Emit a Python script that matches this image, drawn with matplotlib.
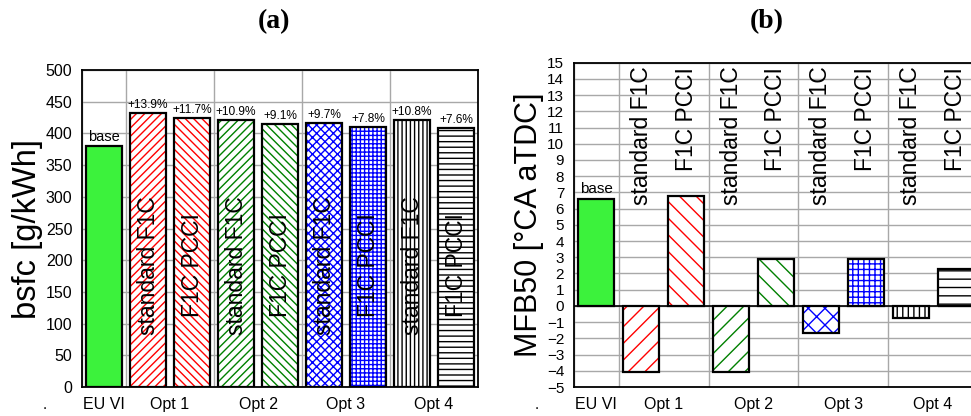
import matplotlib
matplotlib.use("Agg")
import matplotlib.pyplot as plt
import numpy as np

plt.rcParams['font.family'] = ['Liberation Sans', 'DejaVu Sans']
plt.rcParams['hatch.linewidth'] = 1.0

groups = ["EU VI", "Opt 1", "Opt 2", "Opt 3", "Opt 4"]
group_pos = [0, 1.5, 3.5, 5.5, 7.5]
variants = ["base", "standard F1C", "F1C PCCI", "standard F1C", "F1C PCCI",
            "standard F1C", "F1C PCCI", "standard F1C", "F1C PCCI"]

# bsfc: baseline value and relative increase of each option (%)
bsfc_base = 380.0
bsfc_increase = [13.9, 11.7, 10.9, 9.1, 9.7, 7.8, 10.8, 7.6]

# MFB50 in deg CA aTDC
mfb50 = [6.6, -4.1, 6.8, -4.1, 2.9, -1.65, 2.9, -0.75, 2.3]

face_colors = ['#3cf23c'] + ['white'] * 8
hatch_colors = ['black', 'red', 'red', 'green', 'green', 'blue', 'blue', 'black', 'black']
hatches_a = [None, '////', '\\\\\\\\', '////', '\\\\\\\\', 'xxxx', '++++', '||||', '---']
hatches_b = [None, '//', '\\\\', '//', '\\\\', 'xx', '+++', '|||', '--']


def draw_bars(ax, values, hatches):
    x = np.arange(len(values))
    for i, v in enumerate(values):
        ax.bar(x[i], v, width=0.8, color=face_colors[i], hatch=hatches[i],
               edgecolor=hatch_colors[i], linewidth=0, zorder=3)
        ax.bar(x[i], v, width=0.8, color='none', edgecolor='black',
               linewidth=1.6, zorder=4)
    return x


def style_axes(ax, ymin, ymax, ystep):
    ax.set_xlim(-0.5, 8.5)
    ax.set_ylim(ymin, ymax)
    ax.set_yticks(np.arange(ymin, ymax + ystep / 2, ystep))
    ax.set_xticks(group_pos)
    ax.set_xticklabels(groups)
    ax.set_xticks(np.arange(-0.5, 9.0, 1.0), minor=True)
    ax.tick_params(axis='both', which='both', length=0, labelsize=11.5, pad=7)
    ax.grid(axis='y', which='major', color='#a8a8a8', linewidth=1.0, zorder=0)
    ax.grid(axis='x', which='minor', color='#a8a8a8', linewidth=1.0, zorder=0)
    for s in ax.spines.values():
        s.set_color('black')
        s.set_linewidth(1.3)


fig = plt.figure(figsize=(9.71, 4.16), dpi=100)

# (a) bsfc
ax1 = fig.add_axes([0.0845, 0.0697, 0.4078, 0.762])
bsfc = [bsfc_base] + [bsfc_base * (1 + p / 100.0) for p in bsfc_increase]
x1 = draw_bars(ax1, bsfc, hatches_a)
style_axes(ax1, 0, 500, 50)
ax1.set_ylabel("bsfc [g/kWh]", fontsize=23.5, labelpad=2)
ax1.text(x1[0], bsfc[0] + 4, "base", ha='center', va='bottom', fontsize=10.5)
for i, p in enumerate(bsfc_increase):
    ax1.text(x1[i + 1], bsfc[i + 1] + 3, f"+{p}%", ha='center', va='bottom', fontsize=8.6)
for i in range(1, 9):
    ax1.text(x1[i], 192, variants[i], rotation=90, ha='center', va='center',
             fontsize=16.5, zorder=5)

# (b) MFB50
ax2 = fig.add_axes([0.5911, 0.0697, 0.416, 0.7796])
x2 = draw_bars(ax2, mfb50, hatches_b)
style_axes(ax2, -5, 15, 1)
ax2.tick_params(axis='y', labelsize=11)
ax2.axhline(0, color='black', linewidth=1.2, zorder=4)
ax2.set_ylabel("MFB50 [°CA aTDC]", fontsize=22, labelpad=2)
ax2.text(x2[0], mfb50[0] + 0.2, "base", ha='center', va='bottom', fontsize=11)
for i in range(1, 9):
    ax2.text(x2[i], 14.75, variants[i], rotation=90, ha='center', va='top',
             fontsize=16.5, zorder=5)

fig.text(274 / 971, 1 - 22 / 416, "(a)", ha='center', va='center', fontsize=20,
         fontweight='bold', family='Liberation Serif')
fig.text(767 / 971, 1 - 22 / 416, "(b)", ha='center', va='center', fontsize=20,
         fontweight='bold', family='Liberation Serif')
fig.text(45 / 971, 1 - 405 / 416, ".", ha='center', va='center', fontsize=11)
fig.text(537 / 971, 1 - 405 / 416, ".", ha='center', va='center', fontsize=11)

fig.savefig("out.png", dpi=100)
